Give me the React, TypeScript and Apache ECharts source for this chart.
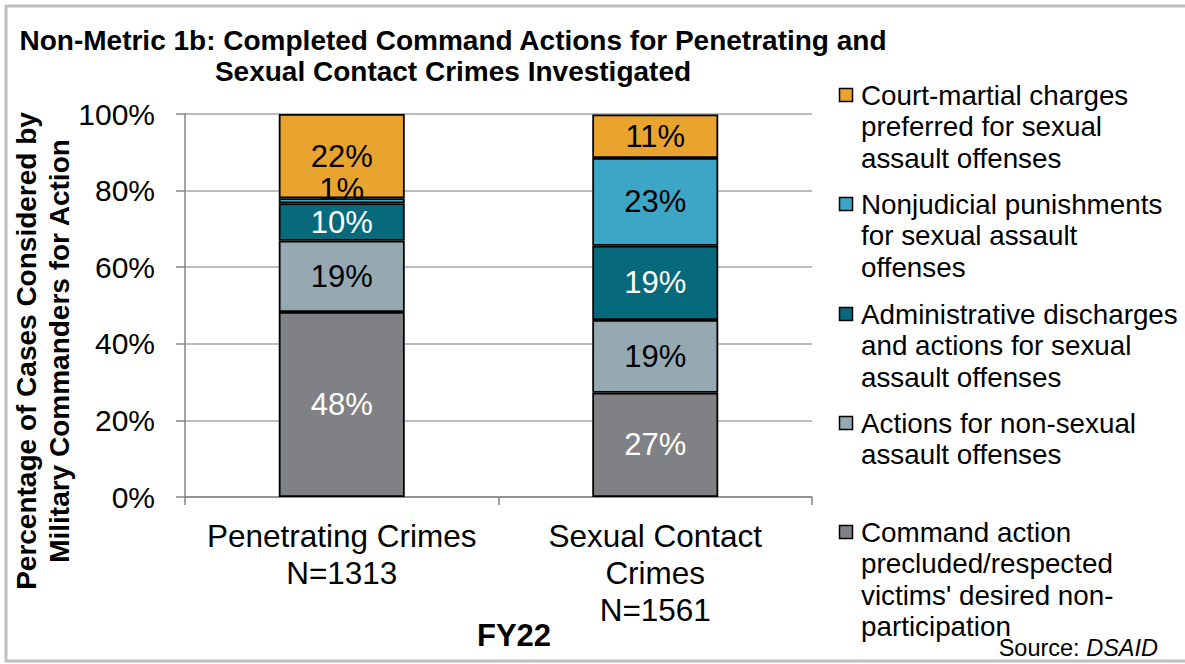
import React, { useEffect, useRef } from "react";
import * as echarts from "echarts";

const categories = ["Penetrating Crimes\nN=1313", "Sexual Contact\nCrimes\nN=1561"];
const seriesNames = [
  "Command action precluded/respected victims' desired non-participation",
  "Actions for non-sexual assault offenses",
  "Administrative discharges and actions for sexual assault offenses",
  "Nonjudicial punishments for sexual assault offenses",
  "Court-martial charges preferred for sexual assault offenses",
];
const legendLines = [
  ["Command action", "precluded/respected", "victims' desired non-", "participation"],
  ["Actions for non-sexual", "assault offenses"],
  ["Administrative discharges", "and actions for sexual", "assault offenses"],
  ["Nonjudicial punishments", "for sexual assault", "offenses"],
  ["Court-martial charges", "preferred for sexual", "assault offenses"],
];
const commandPrecluded = [48.3, 27.2];
const nonSexual = [18.6, 19.0];
const adminDischarges = [9.8, 19.4];
const nonjudicial = [1.3, 22.9];
const courtMartial = [22.0, 11.4];
const yTicks = [0, 20, 40, 60, 80, 100];

const seriesValues = [commandPrecluded, nonSexual, adminDischarges, nonjudicial, courtMartial];
const colors = ["#808184", "#95A9B2", "#07697C", "#3DA6C6", "#E9A42F"];
const labelColors = ["#ffffff", "#000000", "#ffffff", "#000000", "#000000"];
const FONT = "'Liberation Sans', Arial, sans-serif";

export default function App() {
  const ref = useRef<HTMLDivElement>(null);
  useEffect(() => {
    document.body.style.margin = "0";
    const chart = echarts.init(ref.current!, null, { renderer: "svg" });

    const series = seriesValues.map((vals, si) => ({
      type: "bar",
      name: seriesNames[si],
      stack: "total",
      barWidth: 126,
      itemStyle: { color: colors[si], borderColor: "#000", borderWidth: 1.8 },
      label: {
        show: true,
        position: "inside",
        color: labelColors[si],
        fontSize: 31,
        fontFamily: FONT,
        formatter: (p: any) => Math.round(p.value) + "%",
      },
      data: vals.map((v) =>
        v < 3 ? { value: v, label: { offset: [0, -11] } } : v
      ),
    }));

    const legendTop = [532, 423, 314, 204, 95];
    const legendGraphics: any[] = [];
    legendLines.forEach((lines, i) => {
      legendGraphics.push({
        type: "rect",
        shape: { x: 839.5, y: legendTop[i] - 6.5, width: 13, height: 13 },
        style: { fill: colors[i], stroke: "#000", lineWidth: 1.5 },
      });
      legendGraphics.push({
        type: "text",
        x: 861,
        y: legendTop[i] - 15.75,
        style: {
          text: lines.join("\n"),
          font: `27.8px ${FONT}`,
          lineHeight: 31.5,
          fill: "#000",
          verticalAlign: "top",
        },
      });
    });

    chart.setOption({
      animation: false,
      backgroundColor: "#fff",
      grid: { left: 185, right: 373, top: 114, bottom: 167, containLabel: false },
      xAxis: {
        type: "category",
        data: categories,
        axisLine: { lineStyle: { color: "#868686", width: 1.5 } },
        axisTick: { show: true, length: 8, lineStyle: { color: "#868686", width: 1.5 } },
        axisLabel: {
          fontSize: 31.5,
          fontFamily: FONT,
          color: "#000",
          lineHeight: 37,
          margin: 20,
          interval: 0,
        },
      },
      yAxis: {
        type: "value",
        min: 0,
        max: 100,
        interval: 20,
        axisLine: { show: true, lineStyle: { color: "#868686", width: 1.5 } },
        axisTick: { show: true, length: 9, lineStyle: { color: "#868686", width: 1.5 } },
        splitLine: { lineStyle: { color: "#a6a6a6", width: 1.5 } },
        axisLabel: {
          fontSize: 30,
          fontFamily: FONT,
          color: "#000",
          margin: 30,
          formatter: (v: number) => (yTicks.includes(v) ? v + "%" : ""),
        },
      },
      series,
      graphic: [
        {
          type: "rect",
          shape: { x: 6, y: 6, width: 1200, height: 655 },
          style: { fill: "none", stroke: "#bfbfbf", lineWidth: 3 },
          z: -10,
        },
        {
          type: "text",
          x: 453,
          y: 55.5,
          style: {
            text: "Non-Metric 1b: Completed Command Actions for Penetrating and\nSexual Contact Crimes Investigated",
            font: `bold 28px ${FONT}`,
            lineHeight: 31,
            fill: "#000",
            align: "center",
            verticalAlign: "middle",
          },
        },
        {
          type: "text",
          x: 43,
          y: 351,
          rotation: Math.PI / 2,
          style: {
            text: "Percentage of Cases Considered by\nMilitary Commanders for Action",
            font: `bold 28px ${FONT}`,
            lineHeight: 33,
            fill: "#000",
            align: "center",
            verticalAlign: "middle",
          },
        },
        {
          type: "text",
          x: 514,
          y: 635,
          style: {
            text: "FY22",
            font: `bold 31px ${FONT}`,
            fill: "#000",
            align: "center",
            verticalAlign: "middle",
          },
        },
        {
          type: "text",
          x: 1158,
          y: 648,
          style: {
            text: "{n|Source: }{i|DSAID}",
            align: "right",
            verticalAlign: "middle",
            rich: {
              n: { fontSize: 23.5, fontFamily: FONT, color: "#000" },
              i: { fontSize: 23.5, fontFamily: FONT, fontStyle: "italic", color: "#000" },
            },
          },
        },
        ...legendGraphics,
      ],
    });
    return () => chart.dispose();
  }, []);
  return <div ref={ref} style={{ width: 1185, height: 664 }} />;
}
